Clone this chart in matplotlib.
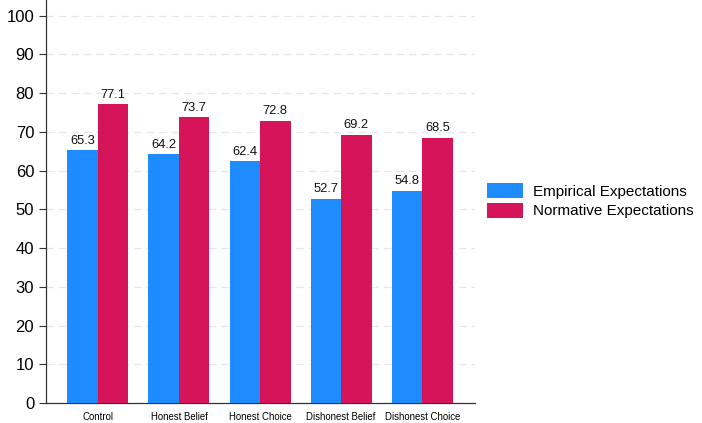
import numpy as np
import matplotlib.pyplot as plt

plt.rcParams['font.family'] = ['Liberation Sans', 'DejaVu Sans']

# Treatment conditions and the two expectation measures
conditions = ['Control', 'Honest Belief', 'Honest Choice', 'Dishonest Belief', 'Dishonest Choice']
empirical = [65.3, 64.2, 62.4, 52.7, 54.8]
normative = [77.1, 73.7, 72.8, 69.2, 68.5]

blue = '#1e8bff'
red = '#d5145a'

fig = plt.figure(figsize=(7.02, 4.23), dpi=100)
ax = fig.add_axes([0.0655, 0.047, 0.611, 0.953])

x = np.arange(1, len(conditions) + 1)
w = 0.376
b1 = ax.bar(x - w / 2, empirical, w, color=blue, label='Empirical Expectations', zorder=3)
b2 = ax.bar(x + w / 2, normative, w, color=red, label='Normative Expectations', zorder=3)

for bars, vals in [(b1, empirical), (b2, normative)]:
    for rect, v in zip(bars, vals):
        ax.annotate(f'{v:.1f}', (rect.get_x() + rect.get_width() / 2, v),
                    xytext=(0, 2.5), textcoords='offset points',
                    ha='center', va='bottom', fontsize=9.3, color='#111111')

ax.set_xlim(0.36, 5.65)
ax.set_ylim(0, 104)
ax.set_yticks(range(0, 101, 10))
ax.set_xticks(x)
ax.set_xticklabels(conditions, fontsize=6.9)
ax.tick_params(axis='x', length=0, pad=6.5)
ax.tick_params(axis='y', labelsize=12, length=5, width=0.8, color='#333333')

ax.yaxis.grid(True, color='#e6e6e6', linestyle=(0, (6, 4)), linewidth=0.9, zorder=0)
for side in ['top', 'right']:
    ax.spines[side].set_visible(False)
for side in ['left', 'bottom']:
    ax.spines[side].set_color('#333333')
    ax.spines[side].set_linewidth(0.9)

fig.legend(handles=[b1, b2], loc='center left', bbox_to_anchor=(0.6937, 0.525),
           frameon=False, fontsize=11, borderpad=0, borderaxespad=0,
           handlelength=2.35, handleheight=1.1,
           handletextpad=0.65, labelspacing=0.25)

fig.savefig('out.png', dpi=100)
